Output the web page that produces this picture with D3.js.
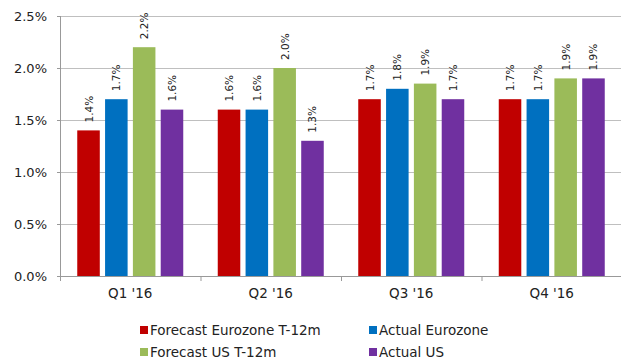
<!DOCTYPE html>
<html><head><meta charset="utf-8">
<script src="https://cdn.jsdelivr.net/npm/d3@7"></script>
<style>body{margin:0;background:#fff}svg{display:block}text{font-family:"DejaVu Sans",Verdana,sans-serif}</style>
</head><body><svg id="c" width="621" height="360"></svg>
<script>
const categories = ["Q1 '16", "Q2 '16", "Q3 '16", "Q4 '16"];
const seriesNames = ["Forecast Eurozone T-12m", "Actual Eurozone", "Forecast US T-12m", "Actual US"];
const forecastEurozone = [1.4, 1.6, 1.7, 1.7];
const actualEurozone = [1.7, 1.6, 1.8, 1.7];
const forecastUS = [2.2, 2.0, 1.85, 1.9];
const actualUS = [1.6, 1.3, 1.7, 1.9];
const yTicks = [0, 0.5, 1.0, 1.5, 2.0, 2.5];
const colors = ["#c00000", "#0070c0", "#9bbb59", "#7030a0"];
const seriesValues = [forecastEurozone, actualEurozone, forecastUS, actualUS];

(function () {
const svg = d3.select("#c");
const mLeft = 60, mRight = 621, mTop = 16, mBottom = 276;
const x = d3.scaleBand().domain(categories).range([mLeft, mLeft + 4 * 140.5]).paddingInner(0).paddingOuter(0);
const x1 = d3.scaleBand().domain(seriesNames).range([0, x.bandwidth()]).paddingInner(0.19).paddingOuter(0.62);
const y = d3.scaleLinear().domain([0, 2.5]).range([mBottom, mTop]);

svg.append("g").selectAll("line").data(yTicks.filter(d => d > 0)).join("line")
  .attr("x1", mLeft - 3).attr("x2", mRight).attr("y1", d => y(d)).attr("y2", d => y(d))
  .attr("stroke", "#bfbfbf").attr("stroke-width", 1).attr("shape-rendering", "crispEdges");

const ya = svg.append("g").attr("transform", `translate(${mLeft},0)`)
  .call(d3.axisLeft(y).tickValues(yTicks).tickFormat(d => d.toFixed(1) + "%").tickSize(3));
ya.select(".domain").attr("stroke", "#999").attr("shape-rendering", "crispEdges");
ya.selectAll(".tick line").attr("stroke", "#999");
ya.selectAll("text").attr("font-size", 13).attr("fill", "#222").attr("x", -13);

const groups = svg.append("g").selectAll("g").data(categories).join("g")
  .attr("transform", d => `translate(${x(d)},0)`);
const rows = (c, i) => seriesNames.map((s, k) => ({s, k, v: seriesValues[k][i]}));
groups.selectAll("rect").data(rows).join("rect")
  .attr("x", d => x1(d.s)).attr("width", x1.bandwidth())
  .attr("y", d => y(d.v)).attr("height", d => y(0) - y(d.v))
  .attr("fill", d => colors[d.k]);
groups.selectAll("text").data(rows).join("text")
  .attr("transform", d => `translate(${x1(d.s) + x1.bandwidth() / 2 + 4},${y(d.v) - 8}) rotate(-90)`)
  .attr("font-size", 10.5).attr("fill", "#222")
  .text(d => d.v.toFixed(1) + "%");

const xa = svg.append("g").attr("transform", `translate(0,${mBottom})`)
  .call(d3.axisBottom(x).tickSize(0));
xa.select(".domain").remove();
svg.append("line").attr("x1", mLeft).attr("x2", mRight).attr("y1", mBottom + 0.5).attr("y2", mBottom + 0.5).attr("stroke", "#999");
svg.append("g").selectAll("line").data(d3.range(5)).join("line")
  .attr("x1", i => mLeft + i * 140.5 + 0.5).attr("x2", i => mLeft + i * 140.5 + 0.5)
  .attr("y1", mBottom).attr("y2", mBottom + 5).attr("stroke", "#999");
xa.selectAll("text").attr("font-size", 13.5).attr("fill", "#222").attr("dy", 0).attr("y", 22);

const legPos = [[140, 330], [369, 330], [140, 352], [369, 352]];
const leg = svg.append("g").selectAll("g").data(seriesNames).join("g")
  .attr("transform", (d, i) => `translate(${legPos[i][0]},${legPos[i][1]})`);
leg.append("rect").attr("x", 0).attr("y", -4).attr("width", 8).attr("height", 8).attr("fill", (d, i) => colors[i]);
leg.append("text").attr("x", 10).attr("y", 0).attr("dy", "0.35em").attr("font-size", 13.5).attr("fill", "#222").text(d => d);
})();
</script></body></html>
